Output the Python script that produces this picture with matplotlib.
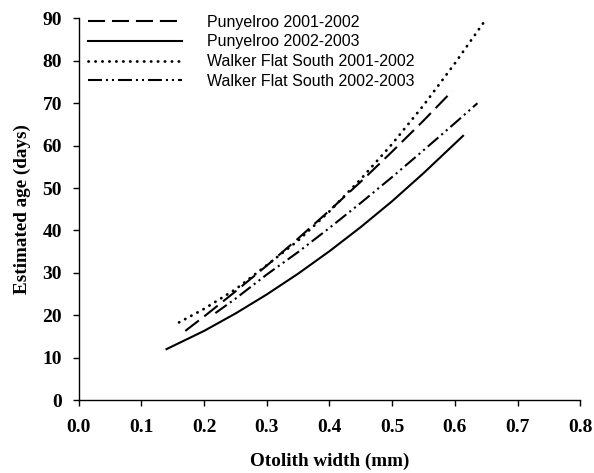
import matplotlib
matplotlib.use("Agg")
import matplotlib.pyplot as plt

# otolith width (mm) vs estimated age (days), one fitted curve per site/season
pun_0102_x = [0.17, 0.20, 0.25, 0.30, 0.35, 0.40, 0.45, 0.50, 0.55, 0.596]
pun_0102_y = [16.3, 19.7, 25.6, 31.7, 38.1, 44.7, 51.5, 58.6, 65.9, 72.9]

pun_0203_x = [0.14, 0.20, 0.25, 0.30, 0.35, 0.40, 0.45, 0.50, 0.55, 0.613]
pun_0203_y = [12.0, 16.3, 20.4, 24.9, 29.8, 35.1, 40.8, 46.9, 53.5, 62.3]

wfs_0102_x = [0.16, 0.20, 0.25, 0.30, 0.35, 0.40, 0.45, 0.50, 0.55, 0.60, 0.65]
wfs_0102_y = [18.3, 21.5, 26.1, 31.8, 37.6, 44.5, 52.1, 60.4, 69.5, 79.4, 89.9]

wfs_0203_x = [0.218, 0.25, 0.30, 0.35, 0.40, 0.45, 0.50, 0.55, 0.60, 0.636]
wfs_0203_y = [20.5, 23.9, 29.6, 34.9, 40.6, 46.5, 52.6, 58.9, 65.3, 70.0]

x_ticks = [0.0, 0.1, 0.2, 0.3, 0.4, 0.5, 0.6, 0.7, 0.8]
y_ticks = [0, 10, 20, 30, 40, 50, 60, 70, 80, 90]

fig = plt.figure(figsize=(5.94, 4.73), dpi=100)
ax = fig.add_axes([0.1325, 0.1543, 0.8444, 0.8068])

lw = 1.5
ax.plot(pun_0102_x, pun_0102_y, color="black", lw=lw, dashes=(8.2, 3.3),
        label="Punyelroo 2001-2002")
ax.plot(pun_0203_x, pun_0203_y, color="black", lw=lw,
        label="Punyelroo 2002-2003")
ax.plot(wfs_0102_x, wfs_0102_y, color="black", lw=2.0, dashes=(0.1, 2.4),
        dash_capstyle="round", label="Walker Flat South 2001-2002")
ax.plot(wfs_0203_x, wfs_0203_y, color="black", lw=lw,
        dashes=(6.7, 1.9, 1.0, 1.9, 1.0, 1.9),
        label="Walker Flat South 2002-2003")

ax.set_xlim(0, 0.8)
ax.set_ylim(0, 90)
ax.set_xticks(x_ticks)
ax.set_yticks(y_ticks)
ax.set_xticklabels([f"{v:.1f}" for v in x_ticks])
ax.set_yticklabels([str(v) for v in y_ticks])

serif_bold = dict(family="Liberation Serif", weight="bold")
for lab in ax.get_xticklabels() + ax.get_yticklabels():
    lab.set_fontfamily("Liberation Serif")
    lab.set_fontweight("bold")
    lab.set_fontsize(14)

ax.spines["top"].set_visible(False)
ax.spines["right"].set_visible(False)
ax.spines["left"].set_linewidth(1)
ax.spines["bottom"].set_linewidth(1)
ax.tick_params(axis="x", direction="out", length=4.5, width=1, pad=9)
ax.tick_params(axis="y", direction="out", length=4.5, width=1, pad=7.5)

ax.set_xlabel("Otolith width (mm)", fontsize=13.8, **serif_bold)
ax.set_ylabel("Estimated age (days)", fontsize=13.8, **serif_bold)
ax.xaxis.label.set_va("center")
ax.yaxis.label.set_va("center")
ax.xaxis.set_label_coords(0.5, -0.16)
ax.yaxis.set_label_coords(-0.112, 0.5)

ax.legend(loc="upper left", bbox_to_anchor=(0.0185, 1.010), frameon=False,
          borderaxespad=0, borderpad=0, handlelength=5.9, handletextpad=1.55,
          labelspacing=0.3, prop=dict(family="Liberation Sans", size=11.5))

fig.savefig("out.png", dpi=100)
